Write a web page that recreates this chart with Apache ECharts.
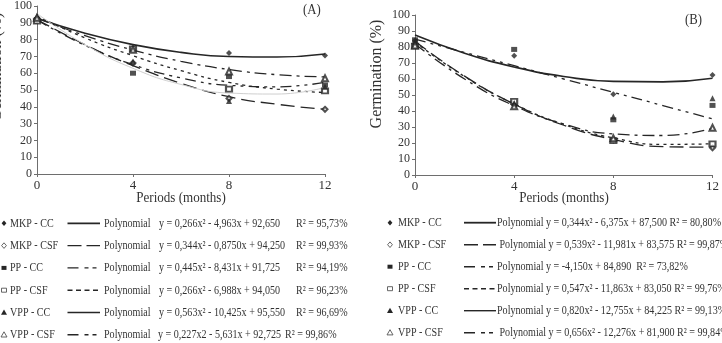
<!DOCTYPE html>
<html>
<head>
<meta charset="utf-8">
<script src="https://cdn.jsdelivr.net/npm/echarts@6/dist/echarts.min.js"></script>
<style>
  body { margin: 0; background: #fff; }
  #chart { width: 722px; height: 343px; }
</style>
</head>
<body>
<div id="chart"></div>
<script>
const periods = [0, 4, 8, 12];
const fitPeriods = [0, 2, 4, 6, 8, 10, 12];
const treatments = ['MKP - CC', 'MKP - CSF', 'PP - CC', 'PP - CSF', 'VPP - CC', 'VPP - CSF'];
const yTicks = [0, 100, 10];
const xTicks = [0, 12, 4];

// panel (A) - observed germination (%)
const aMkpCc = [93, 75, 72, 70.5];
const aMkpCsf = [92, 66, 45, 38.5];
const aPpCc = [92, 60, 58, 53];
const aPpCsf = [91, 74.5, 50.5, 49.5];
const aVppCc = [94, 67, 43.5, 52];
const aVppCsf = [93, 74, 61, 57];

// panel (A) - fitted curves
const aFitMkpCc = [92.7, 83.8, 77.0, 72.4, 69.9, 69.6, 71.4];
const aFitMkpCsf = [92.0, 77.0, 64.5, 54.0, 46.0, 41.5, 38.5];
const aFitPpCc = [91.7, 76.6, 65.1, 57.2, 52.8, 51.9, 54.6];
const aFitPpCsf = [94.0, 81.0, 70.4, 61.5, 54.5, 50.5, 48.5];
const aFitVppCc = [95.5, 77.0, 62.9, 53.3, 48.2, 47.6, 51.5];
const aFitVppCsf = [92.7, 82.4, 73.8, 67.1, 62.2, 59.1, 57.8];

// panel (B) - observed germination (%)
const bMkpCc = [84, 74.5, 50.5, 62.5];
const bMkpCsf = [82, 44, 22, 17];
const bPpCc = [84.5, 78.5, 34.5, 43.5];
const bPpCsf = [80.5, 46, 21.5, 19.5];
const bVppCc = [83, 45, 36.5, 48];
const bVppCsf = [81, 43, 23, 29.5];

// panel (B) - fitted curves (VPP - CC curve is not drawn in the figure)
const bFitMkpCc = [87.5, 76.1, 67.5, 61.6, 58.5, 58.2, 60.5];
const bFitMkpCsf = [83.6, 61.8, 44.3, 31.1, 22.2, 17.7, 17.4];
const bFitPpCc = [84.9, 76.6, 68.3, 60.0, 51.7, 43.4, 35.1];
const bFitPpCsf = [83.1, 61.5, 44.4, 31.6, 23.2, 19.1, 19.5];
const bFitVppCc = null;
const bFitVppCsf = [81.9, 60.0, 43.3, 31.9, 25.7, 24.7, 29.1];

// legend text
const eqA = [
  'y = 0,266x\u00b2 - 4,963x + 92,650',
  'y = 0,344x\u00b2 - 0,8750x + 94,250',
  'y = 0,445x\u00b2 - 8,431x + 91,725',
  'y = 0,266x\u00b2 - 6,988x + 94,050',
  'y = 0,563x\u00b2 - 10,425x + 95,550',
  'y = 0,227x2 - 5,631x + 92,725'
];
const r2A = ['R\u00b2 = 95,73%', 'R\u00b2 = 99,93%', 'R\u00b2 = 94,19%', 'R\u00b2 = 96,23%', 'R\u00b2 = 96,69%', 'R\u00b2 = 99,86%'];
const eqB = [
  'Polynomial y = 0,344x\u00b2 - 6,375x + 87,500 R\u00b2 = 80,80%',
  ' Polynomial y = 0,539x\u00b2 - 11,981x + 83,575 R\u00b2 = 99,87%',
  'Polynomial y = -4,150x + 84,890  R\u00b2 = 73,82%',
  'Polynomial y = 0,547x\u00b2 - 11,863x + 83,050 R\u00b2 = 99,76%',
  'Polynomial y = 0,820x\u00b2 - 12,755x + 84,225 R\u00b2 = 99,13%',
  ' Polynomial y = 0,656x\u00b2 - 12,276x + 81,900 R\u00b2 = 99,84%'
];

const obsA = [aMkpCc, aMkpCsf, aPpCc, aPpCsf, aVppCc, aVppCsf];
const fitA = [aFitMkpCc, aFitMkpCsf, aFitPpCc, aFitPpCsf, aFitVppCc, aFitVppCsf];
const obsB = [bMkpCc, bMkpCsf, bPpCc, bPpCsf, bVppCc, bVppCsf];
const fitB = [bFitMkpCc, bFitMkpCsf, bFitPpCc, bFitPpCsf, bFitVppCc, bFitVppCsf];

const SERIF = '"Liberation Serif", "Times New Roman", serif';
const INK = '#262626';
const symbols = ['diamond', 'emptyDiamond', 'rect', 'emptyRect', 'triangle', 'emptyTriangle'];
const symbolSizes = [6, 5, [6, 5], [6, 5], 6, 6];
const fitStyles = [
  { type: 'solid', width: 1.6, color: INK },
  { type: [14, 6], width: 1.3, color: INK },
  { type: [11, 5, 3, 5, 3, 5], width: 1.3, color: INK },
  { type: [3, 4], width: 1.3, color: INK },
  { type: 'solid', width: 1, color: '#cfcfcf' },
  { type: [12, 5, 3, 5], width: 1.3, color: INK }
];
const legendDash = [null, [14, 5], [11, 6, 4, 4, 4, 4], [5, 3.5], null, [11, 6, 4, 4, 4, 4]];

const series = [];
[[obsA, fitA], [obsB, fitB]].forEach(([obs, fit], p) => {
  fit.forEach((arr, i) => {
    if (!arr) return;
    series.push({
      type: 'line', name: treatments[i] + ' fit', xAxisIndex: p, yAxisIndex: p,
      data: fitPeriods.map((x, k) => [x, arr[k]]),
      smooth: true, showSymbol: false, silent: true,
      lineStyle: fitStyles[i], z: 2
    });
  });
  obs.forEach((arr, i) => {
    series.push({
      type: 'scatter', name: treatments[i], xAxisIndex: p, yAxisIndex: p,
      data: periods.map((x, k) => [x, arr[k]]),
      symbol: symbols[i], symbolSize: symbolSizes[i],
      itemStyle: { color: INK, borderColor: INK, borderWidth: symbols[i].startsWith('empty') ? 1 : 0 },
      z: 5
    });
  });
});

const axisColor = '#6e6e6e';
function xAxis(gridIndex) {
  return {
    type: 'value', gridIndex, min: xTicks[0], max: xTicks[1], interval: xTicks[2],
    axisLine: { show: true, lineStyle: { color: axisColor, width: 1 } },
    axisTick: { show: true, length: 3, lineStyle: { color: axisColor } },
    axisLabel: { fontFamily: SERIF, fontSize: 13, color: '#333', margin: 5 },
    splitLine: { show: false }
  };
}
function yAxis(gridIndex) {
  return {
    type: 'value', gridIndex, min: yTicks[0], max: yTicks[1], interval: yTicks[2],
    axisLine: { show: true, lineStyle: { color: axisColor, width: 1 } },
    axisTick: { show: true, length: 3, lineStyle: { color: axisColor } },
    axisLabel: { fontFamily: SERIF, fontSize: 12, color: '#333', margin: 5 },
    splitLine: { show: false }
  };
}

function txt(x, y, text, o) {
  o = o || {};
  return {
    type: 'text', x, y, rotation: o.rot || 0, scaleX: o.sx || 0.775, silent: true,
    style: {
      text, fontFamily: SERIF, fontSize: o.size || 13, fill: o.fill || '#333',
      textAlign: o.align || 'left', align: o.align || 'left',
      textVerticalAlign: 'middle', verticalAlign: 'middle'
    }
  };
}

function marker(kind, cx, cy) {
  const empty = kind.startsWith('empty');
  const style = { fill: empty ? '#fff' : INK, stroke: empty ? '#555' : INK, lineWidth: empty ? 0.9 : 0 };
  const k = kind.replace('empty', '').toLowerCase();
  if (k === 'rect') {
    return { type: 'rect', shape: { x: cx - 2.5, y: cy - 2, width: 5, height: 4 }, style, silent: true };
  }
  const pts = k === 'diamond'
    ? [[cx, cy - 2.8], [cx + 2.4, cy], [cx, cy + 2.8], [cx - 2.4, cy]]
    : [[cx, cy - 3], [cx + 3, cy + 2.2], [cx - 3, cy + 2.2]];
  return { type: 'polygon', shape: { points: pts }, style, silent: true };
}

function sample(x1, x2, y, i) {
  return {
    type: 'line', silent: true,
    shape: { x1, y1: y, x2, y2: y },
    style: { stroke: INK, lineWidth: i === 0 ? 1.8 : 1.4, lineDash: legendDash[i] }
  };
}

const graphic = [
  txt(303, 10, '(A)', { size: 15, sx: 0.85 }),
  txt(685, 20, '(B)', { size: 15, sx: 0.85 }),
  txt(181, 198, 'Periods (months)', { size: 15, sx: 0.87, align: 'center' }),
  txt(564, 198, 'Periods (months)', { size: 15, sx: 0.87, align: 'center' }),
  txt(-3, 67, 'Germination (%)', { size: 16, sx: 1, align: 'center', rot: Math.PI / 2 }),
  txt(377, 74, 'Germination (%)', { size: 16, sx: 1, align: 'center', rot: Math.PI / 2 })
];

treatments.forEach((name, i) => {
  const ya = 223.3 + i * 22.3;
  graphic.push(marker(symbols[i], 4, ya));
  graphic.push(txt(10, ya, name));
  graphic.push(sample(67.5, 100, ya, i));
  graphic.push(txt(104, ya, 'Polynomial'));
  graphic.push(txt(i === 5 ? 158 : 159, ya, eqA[i]));
  graphic.push(txt(i === 5 ? 285 : 296, ya, r2A[i]));

  const yb = 222.7 + i * 22;
  graphic.push(marker(symbols[i], 390, yb));
  graphic.push(txt(398, yb, name));
  graphic.push(sample(464, 496, yb, i));
  graphic.push(txt(497, yb, eqB[i]));
});

const chart = echarts.init(document.getElementById('chart'));
chart.setOption({
  animation: false,
  backgroundColor: '#fff',
  grid: [
    { left: 37, top: 5, width: 288, height: 169 },
    { left: 415, top: 15, width: 298, height: 160 }
  ],
  xAxis: [xAxis(0), xAxis(1)],
  yAxis: [yAxis(0), yAxis(1)],
  series,
  graphic
});
</script>
</body>
</html>
